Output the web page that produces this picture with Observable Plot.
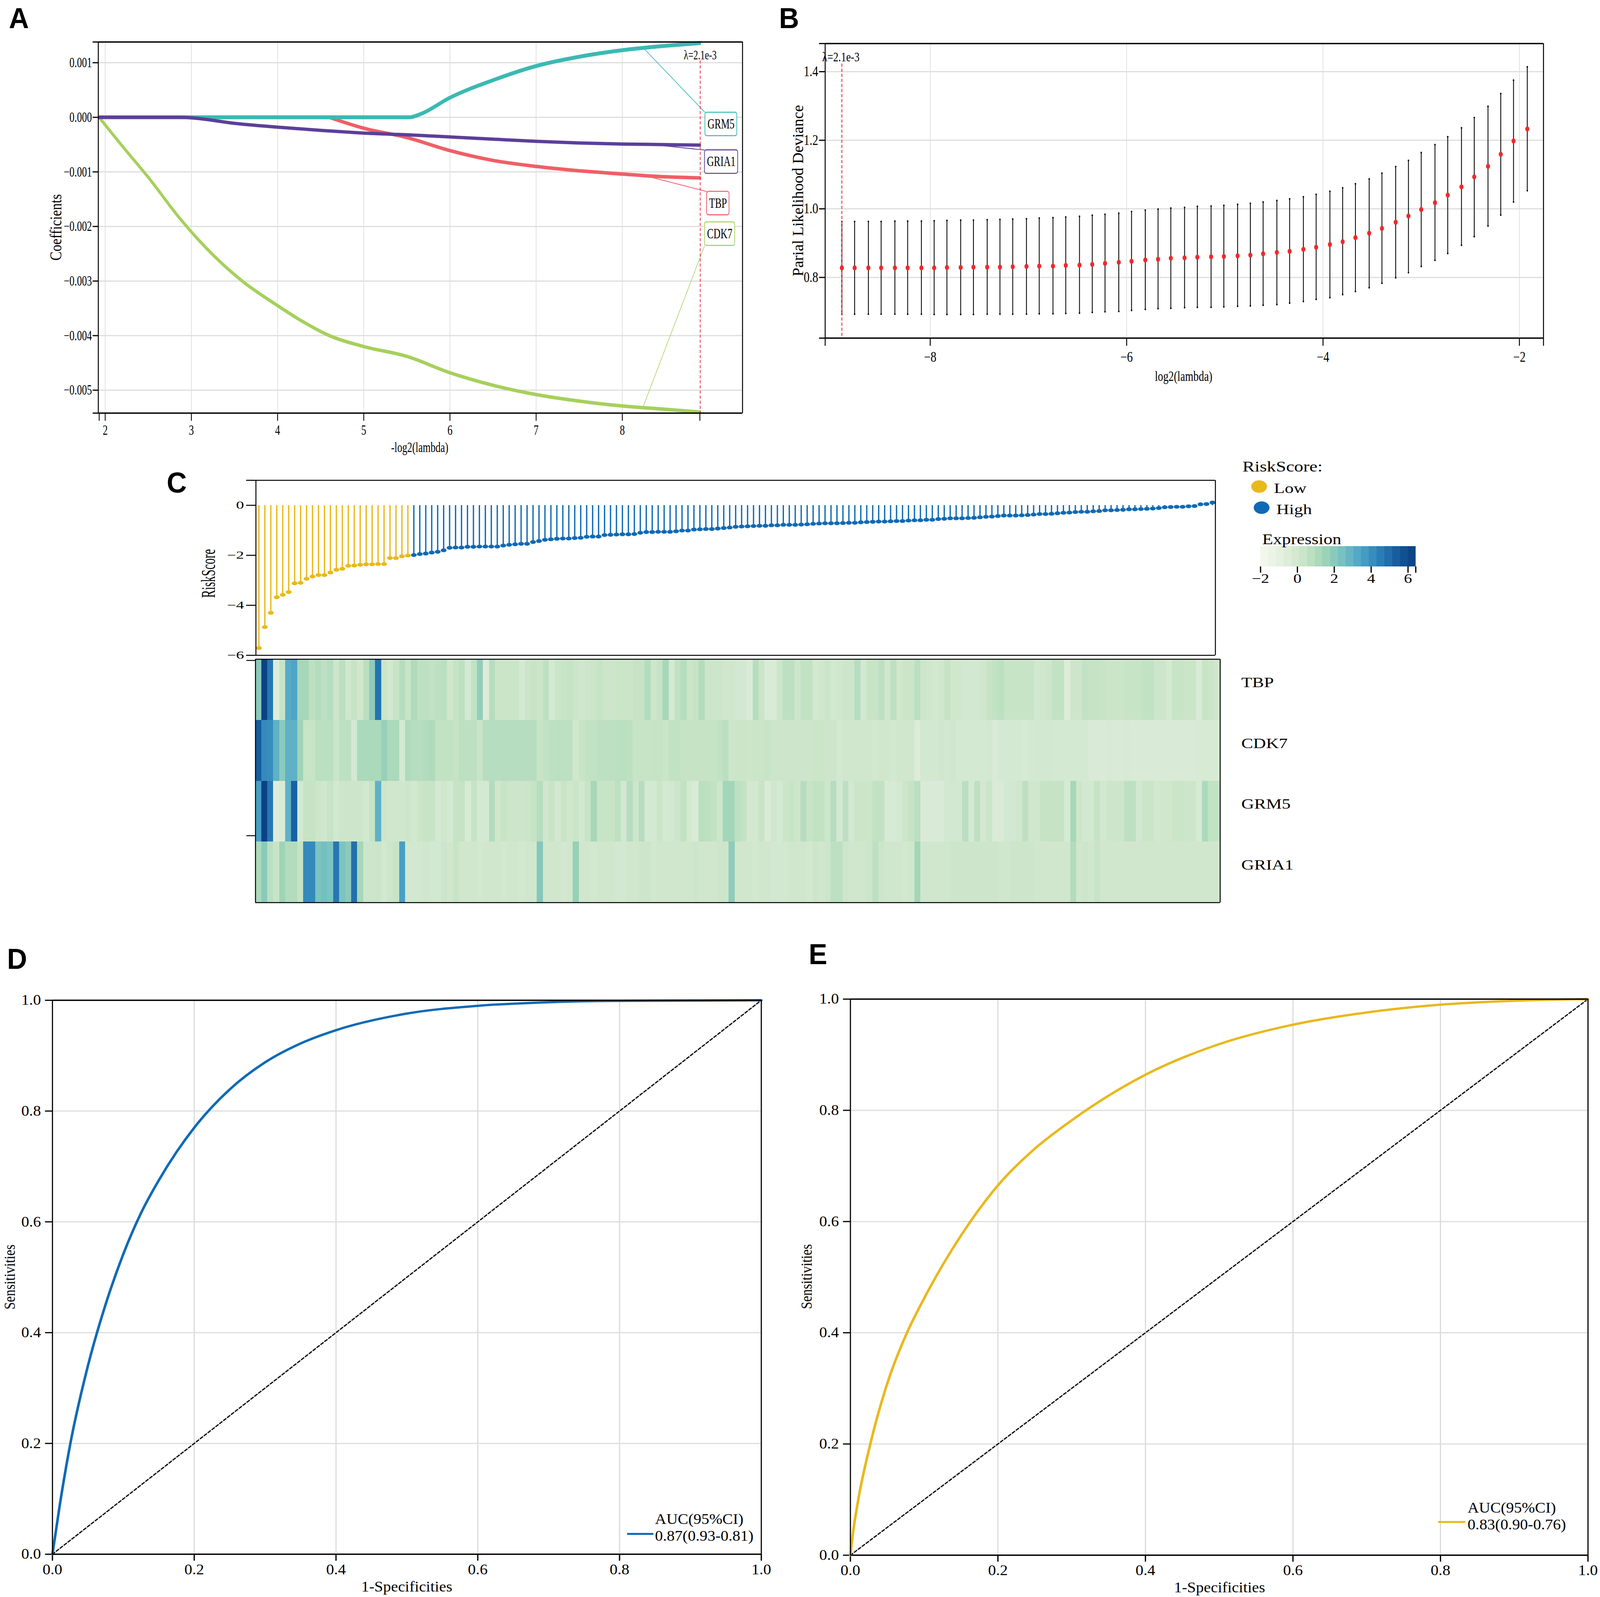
<!DOCTYPE html>
<html>
<head>
<meta charset="utf-8">
<script src="https://cdn.jsdelivr.net/npm/d3@7"></script>
<script src="https://cdn.jsdelivr.net/npm/@observablehq/plot@0.6"></script>
<style>
  html, body { margin: 0; padding: 0; background: #fff; overflow: hidden; }
  #fig { position: relative; width: 4319px; height: 4088px; overflow: hidden; font-family: "Liberation Serif", serif; color: #000; transform-origin: 0 0; }
  .lbl { position: absolute; white-space: nowrap; line-height: 1; }
</style>
</head>
<body>
<div id="fig"></div>
<script>
// ---------- A: LASSO coefficient paths ----------
const grm5X = [1.93, 5.53, 5.66, 6, 6.5, 7, 7.5, 8, 8.5, 8.9];
const grm5Y = [0, 0, 0.00006, 0.00036, 0.00068, 0.00094, 0.00111, 0.00123, 0.00131, 0.00136];
const gria1X = [1.93, 2.87, 3, 3.5, 4, 4.5, 5, 5.5, 6, 6.5, 7, 7.5, 8, 8.5, 8.9];
const gria1Y = [0, 0, -0.00001, -0.00011, -0.00018, -0.00024, -0.00029, -0.00032, -0.00036, -0.0004, -0.00044, -0.00047, -0.00049, -0.0005, -0.00051];
const tbpX = [4.6, 5, 5.5, 6, 6.5, 7, 7.5, 8, 8.5, 8.9];
const tbpY = [0, -0.0002, -0.00037, -0.00061, -0.00079, -0.0009, -0.00098, -0.00104, -0.00109, -0.00111];
const cdk7X = [1.93, 2.2, 2.5, 2.87, 3, 3.25, 3.59, 4, 4.3, 4.6, 5, 5.5, 6, 6.5, 7, 7.5, 8, 8.5, 8.9];
const cdk7Y = [0, -0.00053, -0.0011, -0.00186, -0.0021, -0.00252, -0.003, -0.00345, -0.00375, -0.004, -0.0042, -0.00438, -0.00468, -0.00491, -0.00508, -0.0052, -0.00529, -0.00535, -0.0054];
const geneNames = ["GRM5", "GRIA1", "TBP", "CDK7"];
const geneColors = ["#3ab9b3", "#5c3f99", "#ef5f66", "#a6d05c"];
const boxX1 = [8.96, 8.955, 8.98, 8.955];
const boxX2 = [9.33, 9.34, 9.24, 9.305];
const boxY1 = [0.00009, -0.0006, -0.00136, -0.00192];
const boxY2 = [-0.00034, -0.00103, -0.00179, -0.00235];
const leadX = [8.25, 8.29, 8.29, 8.24];
const leadY = [0.00126, -0.00049, -0.00108, -0.00531];
const leadEndY = [0.00009, -0.0006, -0.00136, -0.00235];

// ---------- B: cross-validation curve ----------
const cvLambda = [-8.90,-8.77,-8.63,-8.50,-8.36,-8.23,-8.09,-7.96,-7.83,-7.69,-7.56,-7.42,-7.29,-7.16,-7.02,-6.89,-6.75,-6.62,-6.48,-6.35,-6.22,-6.08,-5.95,-5.81,-5.68,-5.55,-5.41,-5.28,-5.14,-5.01,-4.87,-4.74,-4.61,-4.47,-4.34,-4.20,-4.07,-3.93,-3.80,-3.67,-3.53,-3.40,-3.26,-3.13,-3.00,-2.86,-2.73,-2.59,-2.46,-2.32,-2.19,-2.06,-1.92];
const cvMean = [.828,.828,.828,.828,.828,.828,.828,.828,.829,.829,.830,.830,.830,.831,.832,.833,.833,.835,.836,.838,.841,.844,.847,.851,.853,.856,.857,.859,.860,.861,.863,.865,.869,.873,.876,.882,.888,.896,.904,.916,.929,.943,.961,.979,.998,1.018,1.040,1.064,1.093,1.124,1.159,1.198,1.233];
const cvUpper = [.963,.963,.963,.963,.964,.964,.964,.965,.966,.967,.967,.968,.969,.970,.971,.973,.974,.976,.978,.981,.984,.987,.992,.996,.999,1.002,1.004,1.007,1.008,1.010,1.013,1.016,1.020,1.024,1.029,1.035,1.042,1.051,1.061,1.073,1.087,1.104,1.123,1.141,1.164,1.187,1.210,1.236,1.266,1.299,1.336,1.375,1.414];
const cvLower = [.693,.693,.693,.693,.693,.693,.693,.692,.692,.692,.692,.693,.693,.693,.693,.694,.694,.695,.696,.698,.700,.701,.704,.707,.709,.710,.712,.713,.713,.714,.716,.717,.719,.721,.725,.730,.736,.741,.750,.759,.770,.783,.799,.814,.832,.850,.870,.894,.919,.950,.982,1.020,1.053];

// ---------- C: risk score + heatmap (161 samples) ----------
const riskLow = [-5.71,-4.87,-4.30,-3.68,-3.58,-3.47,-3.12,-3.10,-2.94,-2.85,-2.79,-2.79,-2.69,-2.58,-2.54,-2.42,-2.41,-2.38,-2.36,-2.36,-2.35,-2.35,-2.11,-2.11,-2.04,-2.01];
const riskHigh = [-1.99,-1.95,-1.93,-1.89,-1.86,-1.80,-1.70,-1.69,-1.69,-1.66,-1.66,-1.65,-1.65,-1.65,-1.65,-1.61,-1.58,-1.56,-1.54,-1.54,-1.47,-1.43,-1.38,-1.36,-1.34,-1.33,-1.33,-1.31,-1.30,-1.26,-1.25,-1.25,-1.19,-1.18,-1.17,-1.16,-1.16,
  -1.15,-1.10,-1.07,-1.07,-1.06,-1.06,-1.06,-1.04,-1.01,-1.01,-.97,-.96,-.95,-.95,-.93,-.91,-.89,-.86,-.85,-.84,-.83,-.82,-.82,-.80,-.80,-.78,-.78,-.78,-.77,-.76,-.74,-.73,-.72,-.72,-.72,-.71,-.70,-.70,-.68,-.67,-.66,-.65,-.65,-.64,-.63,-.63,-.61,-.60,-.60,-.58,
  -.58,-.55,-.54,-.52,-.52,-.52,-.51,-.50,-.48,-.46,-.45,-.43,-.41,-.41,-.41,-.40,-.39,-.37,-.35,-.35,-.34,-.32,-.30,-.29,-.27,-.26,-.26,-.24,-.23,-.20,-.20,-.19,-.18,-.16,-.16,-.15,-.14,-.13,-.11,-.08,-.07,-.06,-.06,-.04,-.03,.04,.05,.11];
const heatGenes = ["TBP", "CDK7", "GRM5", "GRIA1"];
const heatTBP = [2.0,6.3,4.7,-.5,.4,3.2,3.4,1.3,1.3,.7, 1.0,.7,.9,.2,.8,.1,.5,.1,.8,1.9, 4.8,.3,.0,.4,.9,.4,1.1,.7,.7,.6, .7,.8,.1,.5,.7,-.1,.6,1.8,-.4,.9, .3,.3,.3,.3,-.1,.3,.4,.3,.7,-.1, .3,.4,.5,.2,.1,.2,.3,.5,.2,.2, .3,.3,.3,.5,.5,1.0,.2,.5,1.3,-.1, .6,.9,.3,.5,1.0,.3,.2,.2,.1,.1, .0,.0,-.3,.9,.3,-.3,-.3,.2,.7,.7, .2,.6,.6,.0,.1,.3,.0,.1,.2,.2, .9,.0,.4,.4,.7,.1,.7,.1,.3,.3, .8,.2,.1,.0,.1,.5,.1,.1,.0,.0, .0,.1,.4,.6,.7,.4,.4,.4,.4,.4, .0,.1,.2,.6,.6,-.4,.2,.2,.6,.5, .5,.4,.3,.3,.3,.4,.4,.4,.6,.6, .2,.2,-.1,.4,.4,.3,.3,-.3,.4,.3, .1];
const heatCDK7 = [5.4,4.2,4.1,3.0,2.0,3.0,3.0,1.5,.4,.4, .8,.8,.8,.3,.7,.7,-.1,1.2,1.2,1.2, 1.2,1.7,1.2,1.2,-.1,1.1,.9,.9,1.0,1.1, .6,.6,.6,.5,.7,.7,.7,.4,.9,.9, .9,.9,.9,.9,.9,.9,.9,.4,.6,.7, .8,.7,.7,.1,.4,.6,.6,.7,.7,.7, .8,.8,.7,.4,.4,.4,.5,.5,.3,.6, .6,.5,.5,.5,.5,.5,.5,.6,.8,.2, .3,.3,.2,.3,.3,.4,.2,.2,.2,.2, .2,.2,.2,.3,.3,.2,.2,.0,.1,.1, .1,.1,.1,.0,.1,.1,.0,.1,.1,.1, -.4,.0,.0,.0,.1,.0,.1,-.1,-.1,-.1, -.1,-.1,.0,-.3,-.1,-.1,-.1,-.1,-.2,-.1, .0,.0,.0,-.1,-.1,-.1,-.1,-.1,-.1,-.3, -.3,-.3,-.2,-.3,-.3,-.2,-.3,-.3,-.3,-.3, -.3,-.3,-.3,-.3,-.3,-.3,-.3,-.2,-.2,-.2, -.2];
const heatGRM5 = [3.6,6.3,4.7,-.5,-.3,3.0,5.3,.0,.5,.5, .2,.1,.4,.0,.2,.2,.2,.2,.0,.5, 3.0,.2,.1,.1,.1,.2,.0,.3,.4,.4, -.1,.1,-.1,.5,.5,-.2,.5,-.1,-.1,1.0, .1,.4,.2,.2,.2,.3,.5,.9,.1,.4, .0,.4,.1,.3,.0,.4,1.3,.4,.4,.4, .7,.0,.9,.2,.9,-.1,-.1,.3,-.1,.0, .2,.6,-.1,-.3,.8,.7,.6,.2,1.4,1.4, .7,.6,.0,.0,.4,-.3,.1,-.1,.3,.4, .2,.9,.4,.6,.6,.2,.9,.0,.7,.0, .3,.3,.2,.6,.6,-.2,-.2,-.1,.2,.5, .8,-.3,-.3,-.3,-.3,.0,.0,.0,.8,-.1, .7,.0,.3,-.3,-.3,.0,.0,.1,.7,.1, .1,.5,.5,.5,.5,-.2,1.3,.2,.0,.0, .5,.0,.2,.2,.2,.7,.7,.0,.3,.3, .0,.1,.1,.3,.3,.2,.2,-.2,1.2,.6, .6];
const heatGRIA1 = [1.2,2.0,.8,.4,1.5,1.0,1.0,.5,4.2,4.2, 2.3,2.5,2.3,4.7,2.3,2.0,4.9,1.3,.2,.2, .3,.0,.2,.4,3.6,.0,.0,.0,.1,.0, .0,.2,.1,.4,.1,.1,.1,.0,.1,.1, .1,.0,.1,.1,.0,.1,.1,2.1,.1,.1, .1,.0,.1,1.7,.1,.1,.0,.1,.1,.1, .0,.0,.1,.1,.2,.2,.0,.1,.1,.1, .1,.1,.1,.2,.1,.1,.1,.2,.2,1.9, .1,.1,.1,.0,.1,.1,.0,.0,.0,.1, .1,.1,.0,.2,.1,.2,.7,.7,.2,.1, .1,.1,.2,.7,.2,.1,.1,.1,.0,.1, 1.4,.1,.1,.1,.1,.1,.2,.2,.2,.2, .2,.2,.2,.2,.1,.1,.2,.2,.2,.2, .1,.1,.1,.1,.1,.1,1.0,.1,.2,.1, .4,.1,.1,.1,.1,.1,.1,.1,.1,.1, .1,.1,.1,.1,.1,.1,.1,.1,.1,.1, .1];
const exprDomain = [-2, -.5, .5, 1.5, 2.5, 3.5, 4.5, 5.5, 6.42];
const exprColors = ["#f5f9ef", "#deedda", "#c6e3c5", "#9fd4b6", "#74bfc2", "#4aa2c8", "#2a7fb8", "#14599c", "#084081"];
const exprSteps = [-2,-1.58,-1.16,-.74,-.32,.1,.53,.95,1.37,1.79,2.21,2.63,3.05,3.47,3.89,4.31,4.74,5.16,5.58,6,6.42];
const riskLevels = ["Low", "High"];
const riskColors = ["#e9b81c", "#0f6ab5"];

// ---------- D, E: ROC curves ----------
const rocDX = [0,.01,.025,.05,.075,.1,.125,.15,.175,.2,.25,.3,.35,.4,.5,.6,.7,.8,.9,1];
const rocDY = [0,.086,.198,.34,.451,.542,.616,.675,.726,.77,.839,.888,.922,.946,.976,.99,.9965,.999,.9995,1];
const rocEX = [0,.003,.01,.027,.05,.075,.1,.15,.2,.25,.3,.4,.5,.6,.7,.8,.9,1];
const rocEY = [0,.035,.095,.2,.309,.395,.462,.575,.665,.731,.782,.864,.919,.954,.976,.99,.997,1];
const diagonal = [0, 1];
const rocTicks = [0, .2, .4, .6, .8, 1];

const fig = document.getElementById("fig");
// the browser window can come out narrower than the 4319px figure: fit it across
fig.style.transform = `scale(${Math.min(1, window.innerWidth / 4319)}, 1)`;
const minus = s => String(s).replace("-", "\u2212");
const exprColor = { type: "linear", domain: exprDomain, range: exprColors, interpolate: "rgb" };

// The published figure is squeezed or stretched per panel, so each svg is drawn
// on a wider/narrower logical canvas and then forced to its real pixel box.
function panel({ frame: [x0, y0, x1, y1], pad: [l, t, r, b], sx, x, y, color, marks }) {
  const svg = Plot.plot({
    width: (x1 - x0 + l + r) / sx, height: y1 - y0 + t + b,
    marginLeft: l / sx, marginRight: r / sx, marginTop: t, marginBottom: b,
    x, y, color, marks,
    style: { fontFamily: "'Liberation Serif', serif", background: "transparent", color: "#000" }
  });
  const rw = x1 - x0 + l + r, rh = y1 - y0 + t + b;
  svg.setAttribute("preserveAspectRatio", "none");
  svg.setAttribute("width", rw);
  svg.setAttribute("height", rh);
  svg.style.cssText += `;position:absolute;left:${x0 - l}px;top:${y0 - t}px;width:${rw}px;height:${rh}px;max-width:none;overflow:visible;`;
  fig.appendChild(svg);
  return svg;
}

function label(text, cx, cy, size, opts = {}) {
  const { rot = 0, sl = 1, st = 1, family = "'Liberation Serif', serif", weight = "normal" } = opts;
  const d = document.createElement("div");
  d.className = "lbl";
  d.textContent = text;
  d.style.cssText += `left:${cx}px;top:${cy}px;font:${weight} ${size}px ${family};transform:translate(-50%,-50%) rotate(${rot}deg) scale(${sl},${st});`;
  fig.appendChild(d);
}

const border = (xd, yd, sx, w, hw) => [
  Plot.ruleX(xd, { stroke: "#000", strokeWidth: w / sx }),
  Plot.ruleY(yd, { stroke: "#000", strokeWidth: hw })
];
const gridV = (ticks, sx, w = 1.6) => Plot.ruleX(ticks, { stroke: "#d9d9d9", strokeWidth: w / sx });
const gridH = (ticks, w = 3) => Plot.ruleY(ticks, { stroke: "#dedede", strokeWidth: w });
const series = (xs, ys) => xs.map((v, i) => [v, ys[i]]);

// ---------- Panel A ----------
{
  const sx = 0.75, xd = [1.92, 9.395], yd = [-0.00542, 0.00138];
  const yTicks = [0.001, 0, -0.001, -0.002, -0.003, -0.004, -0.005];
  const xTicks = [2, 3, 4, 5, 6, 7, 8];
  const lineOf = (xs, ys, c, w) => Plot.line(series(xs, ys), { x: "0", y: "1", stroke: c, strokeWidth: w, curve: "monotone-x" });
  panel({
    frame: [265, 107, 2004, 1057], pad: [160, 40, 40, 120], sx,
    x: { domain: xd }, y: { domain: yd },
    marks: [
      gridV(xTicks, sx), gridH(yTicks),
      Plot.axisY([...yTicks, yd[0], yd[1]], { anchor: "left", tickSize: 20, tickPadding: 3, fontSize: 36, strokeWidth: 3, label: null,
        tickFormat: d => yTicks.includes(d) ? minus(d.toFixed(3)) : "" }),
      Plot.axisX([1.93, ...xTicks, 8.9], { anchor: "bottom", tickSize: 20, tickPadding: 10, fontSize: 36, strokeWidth: 3, label: null,
        tickFormat: d => xTicks.includes(d) ? d : "" }),
      Plot.link(geneNames, { x1: (_, i) => leadX[i], y1: (_, i) => leadY[i], x2: (_, i) => boxX1[i], y2: (_, i) => leadEndY[i],
        stroke: (_, i) => geneColors[i], strokeWidth: 2 }),
      lineOf(cdk7X, cdk7Y, geneColors[3], 9),
      lineOf(tbpX, tbpY, geneColors[2], 9),
      lineOf(grm5X, grm5Y, geneColors[0], 10),
      lineOf(gria1X, gria1Y, geneColors[1], 8.5),
      Plot.ruleX([8.904], { y1: 0.00104, y2: yd[0], stroke: "#e5263a", strokeWidth: 2.6, strokeDasharray: "8 5" }),
      Plot.text(["\u03bb=2.1e-3"], { x: 8.904, y: 0.00114, fontSize: 33, fill: "#000" }),
      Plot.rect(geneNames, { x1: (_, i) => boxX1[i], x2: (_, i) => boxX2[i], y1: (_, i) => boxY1[i], y2: (_, i) => boxY2[i],
        fill: "#fff", stroke: (_, i) => geneColors[i], strokeWidth: 2.6, rx: 6 }),
      Plot.text(geneNames, { x: (_, i) => (boxX1[i] + boxX2[i]) / 2, y: (_, i) => (boxY1[i] + boxY2[i]) / 2, text: d => d, fontSize: 35, fill: "#000" }),
      border(xd, yd, sx, 2.6, 3.4)
    ]
  });
  label("-log2(lambda)", 1133, 1145, 36, { sl: 0.75 });
  label("Coefficients", 151, 582, 38, { rot: -90, sl: 0.92, st: 1.15 });
}

// ---------- Panel B ----------
{
  const sx = 0.85, xd = [-9.07, -1.755], yd = [0.623, 1.482];
  const xTicks = [-8, -6, -4, -2], yTicks = [0.8, 1.0, 1.2, 1.4];
  const cv = cvLambda.map((l, i) => ({ l, m: cvMean[i], u: cvUpper[i], d: cvLower[i] }));
  panel({
    frame: [2227, 111, 4166, 865], pad: [160, 40, 60, 120], sx,
    x: { domain: xd }, y: { domain: yd },
    marks: [
      gridV(xTicks, sx), gridH(yTicks),
      Plot.axisY([...yTicks, yd[0], yd[1]], { anchor: "left", tickSize: 19, tickPadding: 3, fontSize: 37, strokeWidth: 3, label: null,
        tickFormat: d => yTicks.includes(d) ? d.toFixed(1) : "" }),
      Plot.axisX([xd[0], ...xTicks, xd[1]], { anchor: "bottom", tickSize: 20, tickPadding: 14, fontSize: 37, strokeWidth: 3, label: null,
        tickFormat: d => xTicks.includes(d) ? minus(d) : "" }),
      Plot.ruleX(cv, { x: "l", y1: "d", y2: "u", stroke: "#000", strokeWidth: 2.6 }),
      Plot.dot(cv, { x: "l", y: "u", r: 2.4, fill: "#000" }),
      Plot.dot(cv, { x: "l", y: "d", r: 2.4, fill: "#000" }),
      Plot.ruleX([-8.9], { y1: 1.423, y2: yd[0], stroke: "#e5263a", strokeWidth: 2.6, strokeDasharray: "8 5" }),
      Plot.dot(cv, { x: "l", y: "m", r: 6.5, fill: "#ee2a2e" }),
      Plot.text(["\u03bb=2.1e-3"], { x: -8.91, y: 1.442, fontSize: 33, fill: "#000" }),
      border(xd, yd, sx, 2.6, 3.6)
    ]
  });
  label("log2(lambda)", 3195, 963, 36, { sl: 0.8 });
  label("Parial Likelihood Deviance", 2154, 488, 42, { rot: -90, sl: 0.95, st: 1 });
}

// ---------- Panel C: lollipops ----------
{
  const sx = 1.6, xd = [-0.5, 160.5], yd = [-6, 1];
  const risk = [...riskLow.map(v => ({ v, c: riskColors[0] })), ...riskHigh.map(v => ({ v, c: riskColors[1] }))]
    .map((d, i) => ({ ...d, i }));
  panel({
    frame: [690, 1229, 3280, 1677], pad: [100, 10, 10, 12], sx,
    x: { domain: xd, axis: null }, y: { domain: yd },
    marks: [
      Plot.axisY([1, 0, -2, -4, -6], { anchor: "left", tickSize: 16, tickPadding: 4, fontSize: 27, strokeWidth: 2.6, label: null,
        tickFormat: d => d === 1 ? "" : minus(d) }),
      Plot.ruleX(risk, { x: "i", y1: 0, y2: "v", stroke: "c", strokeWidth: 2.2 }),
      Plot.dot(risk, { x: "i", y: "v", r: 4.9, fill: "c" }),
      border(xd, yd, sx, 2.6, 2.6)
    ]
  });
  label("RiskScore", 563, 1468, 33, { rot: -90, sl: 0.92, st: 1.6 });
}

// ---------- Panel C: heatmap ----------
{
  const sx = 1.33, xd = [-0.5, 160.5], yd = [4, 0];
  const rows = [heatTBP, heatCDK7, heatGRM5, heatGRIA1];
  const cells = rows.flatMap((vals, r) => vals.map((v, i) => ({ r, i, v })));
  panel({
    frame: [689, 1687, 3293, 2310], pad: [40, 10, 1026, 10], sx,
    x: { domain: xd, axis: null }, y: { domain: yd },
    color: exprColor,
    marks: [
      Plot.rect(cells, { x1: d => d.i - 0.5, x2: d => d.i + 0.5, y1: "r", y2: d => d.r + 1, fill: "v", shapeRendering: "crispEdges" }),
      Plot.axisY([0.02, 2.9], { anchor: "left", tickSize: 18, tickPadding: 2, strokeWidth: 2.4, label: null, tickFormat: () => "" }),
      Plot.text(heatGenes, { x: xd[1], y: (_, i) => i + 0.5, text: d => d, textAnchor: "start", dx: 43, dy: -18, fontSize: 36, fill: "#000" }),
      border(xd, yd, sx, 2.6, 2.6)
    ]
  });
}

// ---------- Panel C: legends ----------
{
  const sx = 1.33;
  panel({
    frame: [3353, 1215, 3640, 1330], pad: [0, 0, 0, 0], sx,
    x: { domain: [0, 1], range: [34, 70], axis: null },
    y: { type: "point", domain: riskLevels, range: [30, 84], padding: 0, axis: null },
    marks: riskLevels.flatMap((lv, k) => [
      Plot.dot([lv], { x: () => 0, y: d => d, r: 16, dx: k * 5, fill: riskColors[k] }),
      Plot.text([lv], { x: () => 0, y: d => d, text: d => d, textAnchor: "start", dx: 30 + k * 5, dy: 5, fontSize: 36, fill: "#000" })
    ])
  });
  const steps = exprSteps.slice(1).map((e, i) => ({ a: exprSteps[i], b: e }));
  panel({
    frame: [3402, 1398, 3821, 1450], pad: [40, 0, 30, 60], sx,
    x: { domain: [-2, 6.42] }, y: { domain: [0, 1], axis: null },
    color: exprColor,
    marks: [
      Plot.rect(steps, { x1: "a", x2: "b", y1: 0, y2: 1, fill: d => (d.a + d.b) / 2, shapeRendering: "crispEdges" }),
      Plot.axisX([-2, 0, 2, 4, 6, 6.42], { anchor: "bottom", tickSize: 16, tickPadding: 2, fontSize: 33, strokeWidth: 2.5, label: null,
        tickFormat: d => d === 6.42 ? "" : minus(d) })
    ]
  });
  label("RiskScore:", 3462, 1194, 37, { sl: 1.33 });
  label("Expression", 3514, 1380, 37, { sl: 1.3 });
}

// ---------- Panels D and E ----------
function rocPanel(frame, xs, ys, color, auc, legX, legY1, legY2, lineX1, lineX2, lineY) {
  const sx = 1.15;
  panel({
    frame, pad: [120, 20, 33, 108], sx,
    x: { domain: [0, 1] }, y: { domain: [0, 1] },
    marks: [
      gridV(rocTicks, sx, 3), gridH(rocTicks, 3),
      Plot.axisY(rocTicks, { anchor: "left", tickSize: 17, tickPadding: 10, fontSize: 37, strokeWidth: 3, label: null, tickFormat: d => d.toFixed(1) }),
      Plot.axisX(rocTicks, { anchor: "bottom", tickSize: 17, tickPadding: 8, fontSize: 37, strokeWidth: 3, label: null, tickFormat: d => d.toFixed(1) }),
      Plot.line(series(diagonal, diagonal), { x: "0", y: "1", stroke: "#000", strokeWidth: 3, strokeDasharray: "7 5" }),
      Plot.line(series(xs, ys), { x: "0", y: "1", stroke: color, strokeWidth: 6, curve: "monotone-x" }),
      Plot.ruleY([lineY], { x1: lineX1, x2: lineX2, stroke: color, strokeWidth: 5 }),
      Plot.text(["AUC(95%CI)"], { x: legX, y: legY1, textAnchor: "start", fontSize: 37, fill: "#000" }),
      Plot.text([auc], { x: legX, y: legY2, textAnchor: "start", fontSize: 37, fill: "#000" }),
      border([0, 1], [0, 1], sx, 3, 3.4)
    ]
  });
}
rocPanel([140.5, 2560, 2054, 3978], rocDX, rocDY, riskColors[1], "0.87(0.93-0.81)", .85, .0628, .0325, .811, .848, .0367);
rocPanel([2295, 2556.5, 4286, 3980], rocEX, rocEY, riskColors[0], "0.83(0.90-0.76)", .8367, .085, .0548, .797, .834, .0597);
label("1-Specificities", 1098, 4061, 38, { sl: 1.12 });
label("1-Specificities", 3292, 4063, 38, { sl: 1.12 });
label("Sensitivities", 26, 3269, 34, { rot: -90, sl: 1, st: 1.25 });
label("Sensitivities", 2177, 3268, 34, { rot: -90, sl: 1, st: 1.25 });

// ---------- Panel letters ----------
const letters = ["A", "B", "C", "D", "E"];
const letterX = [51, 2130, 477, 46, 2208];
const letterY = [46, 46, 1235, 2454, 2442];
letters.forEach((t, i) => label(t, letterX[i], letterY[i], 75, { family: "'Liberation Sans', sans-serif", weight: "bold" }));
</script>
</body>
</html>
